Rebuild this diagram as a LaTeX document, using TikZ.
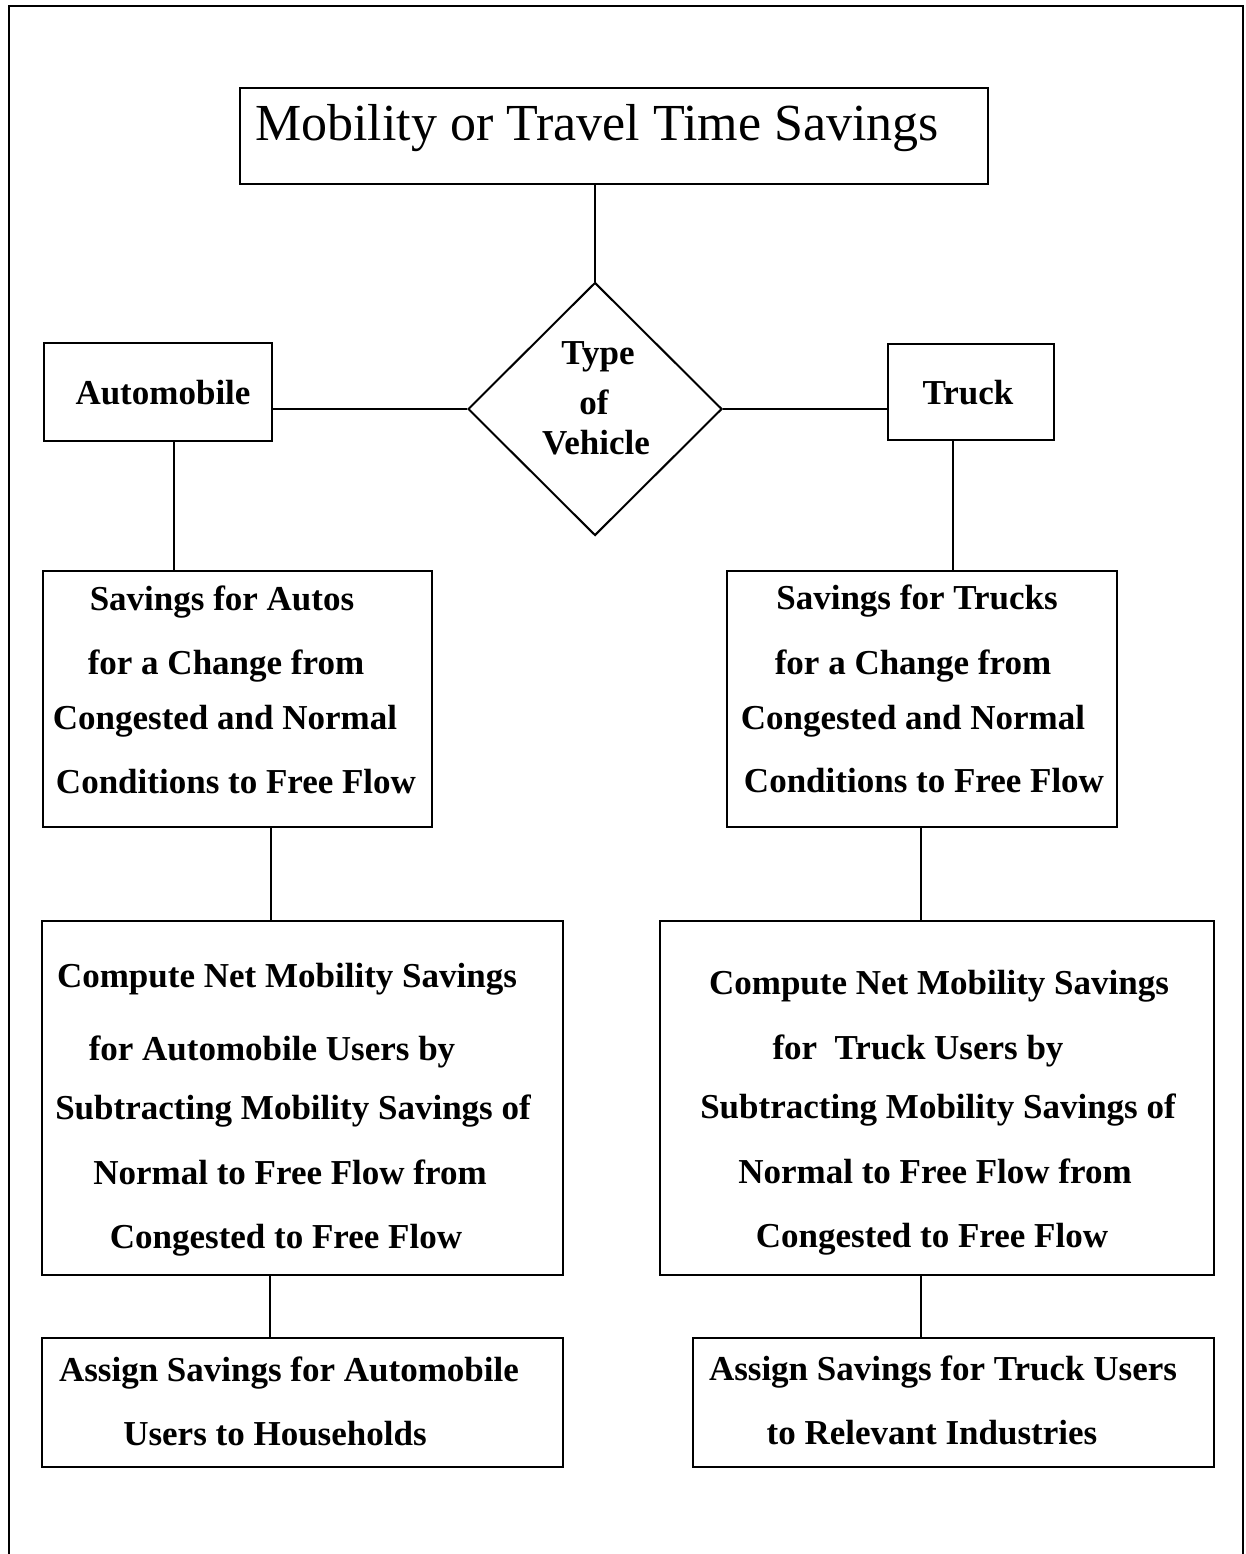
\documentclass[tikz,border=0pt]{standalone}
\usepackage{fontspec}
\setmainfont{Liberation Serif}
\usetikzlibrary{shapes.geometric}

\tikzset{
  box/.style={draw, line width=2pt, inner sep=0pt},
  txt/.style={inner sep=0pt, text height=0.7em, text depth=0.2em, yshift=-10pt,
              font=\bfseries\fontsize{35}{40}\selectfont},
  ttl/.style={inner sep=0pt, text height=0.7em, text depth=0.2em, yshift=-18pt,
              font=\fontsize{52}{60}\selectfont},
  link/.style={line width=2pt}
}

\begin{document}
\begin{tikzpicture}[x=1pt, y=-1pt]
\useasboundingbox (0,0) rectangle (1245,1554);

% outer frame, open at the bottom
\draw[line width=2pt] (9,1554) -- (9,6) -- (1243,6) -- (1243,1554);

% boxes
\node[box, minimum width=748, minimum height=96] (title) at (614,136) {};
\node[box, shape=diamond, minimum width=254, minimum height=253] (dia) at (595,409) {};
\node[box, minimum width=228, minimum height=98] (auto) at (158,392) {};
\node[box, minimum width=166, minimum height=96] (truck) at (971,392) {};
\node[box, minimum width=389, minimum height=256] (savA) at (237.5,699) {};
\node[box, minimum width=390, minimum height=256] (savT) at (922,699) {};
\node[box, minimum width=521, minimum height=354] (compA) at (302.5,1098) {};
\node[box, minimum width=554, minimum height=354] (compT) at (937,1098) {};
\node[box, minimum width=521, minimum height=129] (asgA) at (302.5,1402.5) {};
\node[box, minimum width=521, minimum height=129] (asgT) at (953.5,1402.5) {};

% connectors
\draw[link] (dia.north) -- (dia.north |- title.south);
\draw[link] (dia.west) -- (dia.west -| auto.east);
\draw[link] (dia.east) -- (dia.east -| truck.west);
\draw[link] ([xshift=16pt]auto.south) -- ([xshift=16pt]auto.south |- savA.north);
\draw[link] ([xshift=-18pt]truck.south) -- ([xshift=-18pt]truck.south |- savT.north);
\draw[link] ([xshift=33.5pt]savA.south) -- ([xshift=33.5pt]savA.south |- compA.north);
\draw[link] ([xshift=-1pt]savT.south) -- ([xshift=-1pt]savT.south |- compT.north);
\draw[link] ([xshift=-32.5pt]compA.south) -- ([xshift=-32.5pt]compA.south |- asgA.north);
\draw[link] ([xshift=-16pt]compT.south) -- ([xshift=-16pt]compT.south |- asgT.north);

% labels
\node[ttl] (t0) at (597,120) {Mobility or Travel Time Savings};

\node[txt] (d1) at (598,352) {Type};
\node[txt] (d2) at (594,402) {of};
\node[txt] (d3) at (596,442) {Vehicle};

\node[txt] (a0) at (163,392) {Automobile};
\node[txt] (k0) at (968,392) {Truck};

\node[txt] (sa1) at (222,598) {Savings for Autos};
\node[txt] (sa2) at (226,662) {for a Change from};
\node[txt] (sa3) at (225,717) {Congested and Normal};
\node[txt] (sa4) at (236,781) {Conditions to Free Flow};

\node[txt] (st1) at (917,597) {Savings for Trucks};
\node[txt] (st2) at (913,662) {for a Change from};
\node[txt] (st3) at (913,717) {Congested and Normal};
\node[txt] (st4) at (924,780) {Conditions to Free Flow};

\node[txt] (ca1) at (287,975) {Compute Net Mobility Savings};
\node[txt] (ca2) at (272,1048) {for Automobile Users by};
\node[txt] (ca3) at (293,1107) {Subtracting Mobility Savings of};
\node[txt] (ca4) at (290,1172) {Normal to Free Flow from};
\node[txt] (ca5) at (286,1236) {Congested to Free Flow};

\node[txt] (ct1) at (939,982) {Compute Net Mobility Savings};
\node[txt] (ct2) at (918,1047) {for\ \ Truck Users by};
\node[txt] (ct3) at (938,1106) {Subtracting Mobility Savings of};
\node[txt] (ct4) at (935,1171) {Normal to Free Flow from};
\node[txt] (ct5) at (932,1235) {Congested to Free Flow};

\node[txt] (aa1) at (289,1369) {Assign Savings for Automobile};
\node[txt] (aa2) at (275,1433) {Users to Households};

\node[txt] (at1) at (943,1368) {Assign Savings for Truck Users};
\node[txt] (at2) at (932,1432) {to Relevant Industries};
\end{tikzpicture}
\end{document}
